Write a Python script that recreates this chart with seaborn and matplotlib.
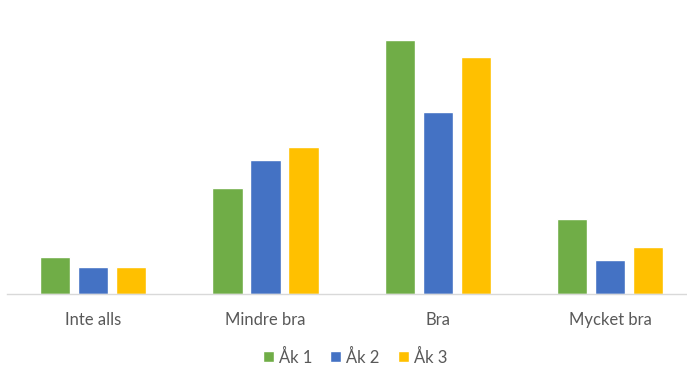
import matplotlib
matplotlib.use("Agg")
import matplotlib.pyplot as plt
import seaborn as sns
import pandas as pd

# data (arbitrary units)
kategorier = ["Inte alls", "Mindre bra", "Bra", "Mycket bra"]
ak1 = [36.7, 106, 254, 74.7]
ak2 = [26.7, 133.7, 181.7, 33.7]
ak3 = [26.7, 147.3, 237.3, 47]
serier = ["Åk 1", "Åk 2", "Åk 3"]
farger = ["#70AD47", "#4472C4", "#FFC000"]

df = pd.DataFrame({
    "kategori": kategorier * 3,
    "serie": [s for s in serier for _ in kategorier],
    "varde": ak1 + ak2 + ak3,
})

sns.set_theme(style="white")
plt.rcParams["font.family"] = ["Lato", "DejaVu Sans"]

fig = plt.figure(figsize=(6.87, 3.70), dpi=100)
ax = fig.add_axes([7 / 687, 76 / 370, (686 - 7) / 687, 254 / 370])

sns.barplot(data=df, x="kategori", y="varde", hue="serie", palette=farger,
            width=0.6615, gap=0.21, saturation=1, ax=ax, legend=True)

ax.set_xlim(-0.5, 3.44)
ax.set_ylim(0, 254)
ax.set_xlabel("")
ax.set_ylabel("")
ax.set_yticks([])
for s in ["top", "left", "right"]:
    ax.spines[s].set_visible(False)
ax.spines["bottom"].set_color("#D9D9D9")
ax.spines["bottom"].set_linewidth(1)
ax.tick_params(axis="x", length=0, pad=13, labelsize=12, labelcolor="#595959")

leg = ax.legend(loc="center", bbox_to_anchor=(355 / 687, 1 - 357 / 370),
                bbox_transform=fig.transFigure, ncol=3, frameon=False,
                fontsize=12, handlelength=0.65, handleheight=0.65,
                handletextpad=0.3, columnspacing=1.1)
for t in leg.get_texts():
    t.set_color("#595959")

fig.savefig("out.png", dpi=100)
